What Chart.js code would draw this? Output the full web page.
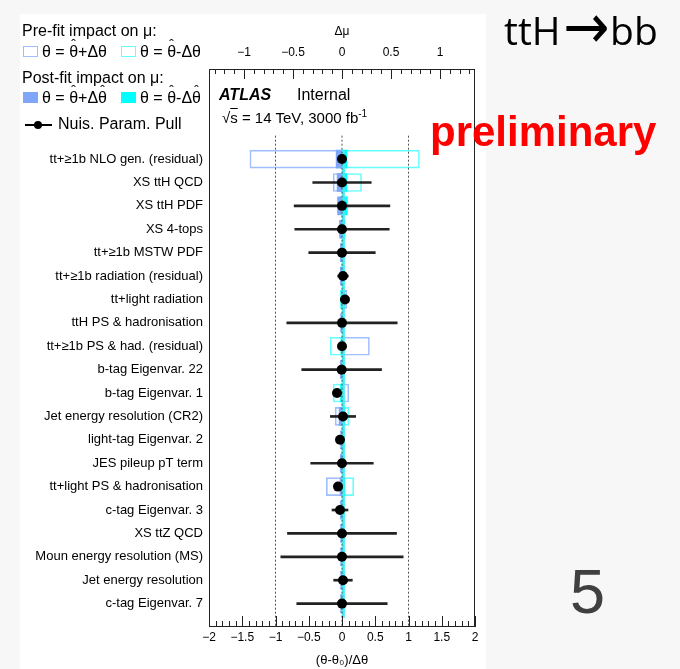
<!DOCTYPE html>
<html>
<head>
<meta charset="utf-8">
<script src="https://cdn.jsdelivr.net/npm/chart.js@4.4.0/dist/chart.umd.min.js"></script>
<style>
body { margin: 0; background: #f7f7f7; width: 680px; height: 669px; overflow: hidden; position: relative; font-family: "Liberation Sans", Arial, sans-serif; }
#sheet { position: absolute; left: 20px; top: 14px; width: 466px; height: 655px; background: #fff; }
#rank { position: absolute; left: 0; top: 0; }
.t { position: absolute; white-space: nowrap; line-height: 1; transform: translateY(-50%); color: #000; }
.sw { position: absolute; width: 15px; height: 11px; box-sizing: border-box; }
.h { position: relative; display: inline-block; }
.h::before { content: "\02C6"; position: absolute; left: 0; right: 0; top: -0.42em; text-align: center; font-size: 0.85em; }
.arr { display: inline-block; font-family: "DejaVu Sans", sans-serif; font-size: 46px; transform: scale(1.2, 1.35); margin: 0 5px 0 6px; position: relative; top: -3px; }
</style>
</head>
<body>
<div id="sheet"></div>
<canvas id="rank" width="680" height="669"></canvas>

<div class="t" style="left:22px;top:31px;font-size:16px">Pre-fit impact on μ:</div>
<div class="sw" style="left:23px;top:46px;border:1px solid #9fbfff"></div>
<div class="t" style="left:42px;top:52px;font-size:16px">θ = <span class="h">θ</span>+Δθ</div>
<div class="sw" style="left:121px;top:46px;border:1px solid #66ffff"></div>
<div class="t" style="left:140px;top:52px;font-size:16px">θ = <span class="h">θ</span>-Δθ</div>

<div class="t" style="left:22px;top:78px;font-size:16px">Post-fit impact on μ:</div>
<div class="sw" style="left:23px;top:92px;background:#7fa6f8"></div>
<div class="t" style="left:42px;top:98px;font-size:16px">θ = <span class="h">θ</span>+Δ<span class="h">θ</span></div>
<div class="sw" style="left:121px;top:92px;background:#00ffff"></div>
<div class="t" style="left:140px;top:98px;font-size:16px">θ = <span class="h">θ</span>-Δ<span class="h">θ</span></div>

<div style="position:absolute;left:25px;top:124px;width:27px;height:2px;background:#000"></div>
<div style="position:absolute;left:34px;top:121px;width:8px;height:8px;border-radius:50%;background:#000"></div>
<div class="t" style="left:58px;top:124px;font-size:16px">Nuis. Param. Pull</div>

<div class="t" style="left:219px;top:95px;font-size:16px;font-weight:bold;font-style:italic">ATLAS</div>
<div class="t" style="left:297px;top:95px;font-size:16px">Internal</div>
<div class="t" style="left:222px;top:117px;font-size:15px">√<span style="text-decoration:overline">s</span> = 14 TeV, 3000 fb<sup style="font-size:10px">-1</sup></div>

<div class="t" style="left:504px;top:29px;font-size:39px;font-family:'Open Sans',sans-serif">ttH<span class="arr">→</span>bb</div>
<div class="t" style="left:430px;top:132px;font-size:42px;font-weight:bold;color:#ff0000">preliminary</div>
<div class="t" style="left:570px;top:591px;font-size:63px;color:#404040">5</div>

<script>
const params = [
    'tt+≥1b NLO gen. (residual)', 'XS ttH QCD', 'XS ttH PDF', 'XS 4-tops',
    'tt+≥1b MSTW PDF', 'tt+≥1b radiation (residual)', 'tt+light radiation',
    'ttH PS & hadronisation', 'tt+≥1b PS & had. (residual)', 'b-tag Eigenvar. 22',
    'b-tag Eigenvar. 1', 'Jet energy resolution (CR2)', 'light-tag Eigenvar. 2',
    'JES pileup pT term', 'tt+light PS & hadronisation', 'c-tag Eigenvar. 3',
    'XS ttZ QCD', 'Moun energy resolution (MS)', 'Jet energy resolution', 'c-tag Eigenvar. 7'
];
const pull    = [0, 0, 0, 0, 0, 0.015, 0.045, 0, 0, -0.005, -0.075, 0.015, -0.03, 0, -0.06, -0.03, 0, 0, 0.015, 0];
const pullErr = [0.06, 0.44, 0.72, 0.71, 0.50, 0.08, 0.03, 0.83, 0.03, 0.60, 0.03, 0.19, 0.03, 0.47, 0.03, 0.12, 0.82, 0.92, 0.14, 0.68];
const preUp    = [-0.94, -0.09, -0.05, -0.03, -0.02, -0.02, 0.05, -0.02, 0.28, -0.02, 0.07, -0.07, -0.02, -0.02, -0.16, -0.02, -0.02, -0.02, -0.02, -0.02];
const preDown  = [0.79, 0.20, 0.06, 0.03, 0.02, 0.02, -0.02, 0.02, -0.12, 0.02, -0.09, 0.07, 0.02, 0.02, 0.12, 0.02, 0.02, 0.02, 0.02, 0.02];
const postUp   = [-0.06, -0.05, -0.04, -0.02, -0.015, -0.015, 0.03, -0.01, 0.01, -0.015, 0.015, -0.03, -0.01, -0.015, -0.02, -0.015, -0.01, -0.01, -0.01, -0.01];
const postDown = [0.05, 0.05, 0.05, 0.03, 0.02, 0.02, -0.01, 0.02, -0.01, 0.02, -0.015, 0.03, 0.02, 0.02, 0.03, 0.02, 0.02, 0.02, 0.02, 0.02];
const pullTicks = [-2, -1.5, -1, -0.5, 0, 0.5, 1, 1.5, 2];
const impactTicks = [-1, -0.5, 0, 0.5, 1];
const guides = [-1, 0, 1];

const rows = params.map((_, i) => i);
const box = vals => vals.map((v, i) => ({x: [0, v], y: i}));
const fmt = v => (v < 0 ? '\u2212' : '') + Math.abs(v);
const font = size => ({family: '"Liberation Sans", Arial, sans-serif', size: size});

function barSet(vals, opts) {
    return Object.assign({
        type: 'bar', xAxisID: 'x2', data: box(vals), barThickness: 18, grouped: false,
        borderSkipped: false, borderWidth: 0
    }, opts);
}

// inside tick marks and the frame round the plot
const frame = {
    id: 'frame',
    afterDraw(chart) {
        const {ctx, chartArea: a, scales} = chart;
        ctx.save();
        ctx.strokeStyle = '#222';
        ctx.lineWidth = 1;
        ctx.strokeRect(a.left + 0.5, a.top + 0.5, a.right - a.left - 1, a.bottom - a.top - 1);
        ctx.beginPath();
        for (let k = -20; k <= 20; k++) {
            const px = Math.round(scales.x.getPixelForValue(k / 10)) + 0.5;
            const len = k % 5 === 0 ? 11 : 6;
            ctx.moveTo(px, a.bottom);
            ctx.lineTo(px, a.bottom - len);
        }
        for (let k = -13; k <= 13; k++) {
            const px = Math.round(scales.x2.getPixelForValue(k / 10)) + 0.5;
            const len = k % 5 === 0 ? 10 : 5;
            ctx.moveTo(px, a.top);
            ctx.lineTo(px, a.top + len);
        }
        ctx.stroke();
        ctx.restore();
    }
};

const datasets = [
    barSet(preUp, {backgroundColor: 'rgba(0,0,0,0)', borderColor: '#9fbfff', borderWidth: 1, order: 10}),
    barSet(preDown, {backgroundColor: 'rgba(0,0,0,0)', borderColor: '#66ffff', borderWidth: 1, order: 9}),
    barSet(postUp, {backgroundColor: '#7fa6f8', order: 8}),
    barSet(postDown, {backgroundColor: '#00ffff', order: 7}),
    {
        type: 'line', xAxisID: 'x', data: [{x: 0.02, y: -0.4}, {x: 0.02, y: 19.6}],
        borderColor: '#40eef4', borderWidth: 3, pointRadius: 0, order: 6
    }
].concat(guides.map(g => ({
    type: 'line', xAxisID: 'x', data: [{x: g, y: -1}, {x: g, y: 20}],
    borderColor: '#555', borderWidth: 1, borderDash: [2, 2], pointRadius: 0, order: 5
}))).concat([
    {
        type: 'bar', xAxisID: 'x', grouped: false, barThickness: 2,
        data: pull.map((p, i) => ({x: [p - pullErr[i], p + pullErr[i]], y: i})),
        backgroundColor: '#222', borderWidth: 0, order: 2
    },
    {
        type: 'scatter', xAxisID: 'x',
        data: pull.map((p, i) => ({x: p, y: i})),
        pointRadius: 5, backgroundColor: '#000', borderWidth: 0, order: 1
    }
]);

new Chart(document.getElementById('rank'), {
    type: 'bar',
    data: {datasets: datasets},
    options: {
        indexAxis: 'y',
        responsive: false,
        animation: false,
        layout: {padding: {left: 0, right: 205, top: 0, bottom: 0}},
        plugins: {legend: {display: false}, tooltip: {enabled: false}},
        scales: {
            x: {
                type: 'linear', position: 'bottom', min: -2, max: 2, offset: false,
                afterBuildTicks: s => { s.ticks = pullTicks.map(v => ({value: v})); },
                afterFit: s => { s.height = 42; },
                grid: {display: false, drawTicks: false},
                border: {display: false},
                ticks: {padding: 3, color: '#000', font: font(12), callback: fmt, maxRotation: 0},
                title: {display: true, text: '(θ-θ₀)/Δθ', color: '#000', font: font(13), padding: {top: 0, bottom: 1}}
            },
            x2: {
                type: 'linear', position: 'top', min: -1.357, max: 1.357, offset: false,
                afterBuildTicks: s => { s.ticks = impactTicks.map(v => ({value: v})); },
                afterFit: s => { s.height = 69; },
                grid: {display: false, drawTicks: false},
                border: {display: false},
                ticks: {padding: 9, color: '#000', font: font(12), callback: fmt, maxRotation: 0},
                title: {display: true, text: 'Δμ', color: '#000', font: font(12), padding: {top: 24, bottom: 0}}
            },
            y: {
                type: 'linear', min: -3.85, max: 20, reverse: true, offset: false,
                afterBuildTicks: s => { s.ticks = rows.map(v => ({value: v})); },
                afterFit: s => { s.width = 209; },
                grid: {display: false, drawTicks: false},
                border: {display: false},
                ticks: {padding: 6, color: '#000', font: font(13), autoSkip: false, callback: v => params[v]}
            }
        }
    },
    plugins: [frame]
});
</script>
</body>
</html>
